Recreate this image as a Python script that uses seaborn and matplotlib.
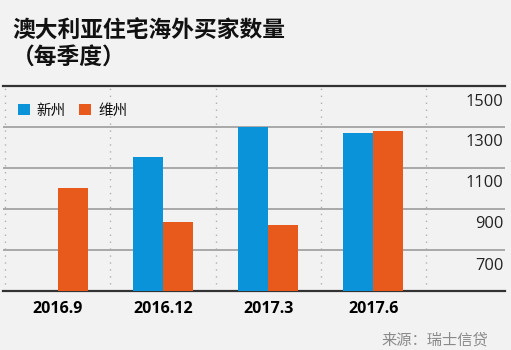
import matplotlib
matplotlib.use("Agg")
import matplotlib.pyplot as plt
from matplotlib.patches import Patch
from matplotlib.transforms import offset_copy
import numpy as np
import pandas as pd
import seaborn as sns

# ---- data ----
quarters = ["2016.9", "2016.12", "2017.3", "2017.6"]
nsw_values = [np.nan, 1155, 1298, 1272]   # 新州
vic_values = [1000, 838, 823, 1280]       # 维州
series_names = ["新州", "维州"]
y_tick_values = [1500, 1300, 1100, 900, 700]
title_line1 = "澳大利亚住宅海外买家数量"
title_line2 = "（每季度）"
source_text = "来源：瑞士信贷"

colors = ["#0a93d9", "#e85a1b"]
bg = "#f2f2f2"

df = pd.DataFrame({
    "quarter": quarters * 2,
    "state": [series_names[0]] * 4 + [series_names[1]] * 4,
    "value": nsw_values + vic_values,
})

sns.set_theme(style="white")
plt.rcParams["font.family"] = ["Noto Sans CJK SC", "DejaVu Sans"]

fig = plt.figure(figsize=(5.11, 3.5), dpi=100, facecolor=bg)
ax = fig.add_axes([3 / 511, 59 / 350, 502 / 511, 205 / 350])
ax.set_facecolor(bg)

sns.barplot(data=df, x="quarter", y="value", hue="state", order=quarters,
            hue_order=series_names, palette=colors, width=0.57,
            saturation=1, ax=ax, legend=False, zorder=3,
            edgecolor="none", linewidth=0)

ax.set_xlim(-0.52, 4.25)
ax.set_ylim(500, 1500)
ax.set_xlabel("")
ax.set_ylabel("")

# horizontal gridlines
ax.set_yticks([1300, 1100, 900, 700])
ax.set_yticklabels([])
ax.tick_params(axis="y", length=0)
ax.grid(axis="y", color="#a3a3a3", linewidth=1.3, zorder=1)

# vertical dotted separators
ax.set_xticks([-0.5, 0.5, 1.5, 2.5, 3.5], minor=True)
ax.grid(axis="x", which="minor", color="#b0b0b0", linewidth=1.0,
        linestyle=(0, (1, 4)), zorder=1)
ax.grid(axis="x", which="major", visible=False)
ax.tick_params(axis="x", which="both", length=0, pad=7)
for lbl in ax.get_xticklabels():
    lbl.set_fontfamily("Open Sans")
    lbl.set_fontweight("bold")
    lbl.set_fontsize(11.5)
    lbl.set_color("#000000")

for s in ["left", "right"]:
    ax.spines[s].set_visible(False)
ax.spines["top"].set_color("#333333")
ax.spines["top"].set_linewidth(1.6)
ax.spines["bottom"].set_color("#333333")
ax.spines["bottom"].set_linewidth(1.6)

# right side value labels (below their gridline)
trans = ax.get_yaxis_transform()
trans_off = offset_copy(trans, fig=fig, x=0, y=-15.5, units="dots")
for v in y_tick_values:
    ax.text(0.997, v, str(v), transform=trans_off, ha="right", va="center",
            fontsize=11.8, family="Open Sans", color="#222222")

# legend
handles = [Patch(facecolor=c, edgecolor="none") for c in colors]
leg = ax.legend(handles, series_names, loc="upper left", ncol=2, frameon=False,
                bbox_to_anchor=(0.0, 0.985), handlelength=0.82, handleheight=0.82,
                handletextpad=0.5, columnspacing=0.9, borderaxespad=0.6,
                prop={"family": ["Noto Sans CJK SC", "DejaVu Sans"], "size": 10.5,
                      "weight": "medium"})
for t in leg.get_texts():
    t.set_color("#111111")

# title
fig.text(12 / 511, 1 - 31 / 350, title_line1, ha="left", va="center",
         fontsize=16.4, fontweight="bold", color="#111111")
fig.text(12 / 511, 1 - 57.5 / 350, title_line2, ha="left", va="center",
         fontsize=16.4, fontweight="bold", color="#111111")

# source
fig.text(488 / 511, 10 / 350, source_text, ha="right", va="center",
         fontsize=11, color="#8a8a8a")

fig.savefig("out.png", dpi=100, facecolor=bg)
